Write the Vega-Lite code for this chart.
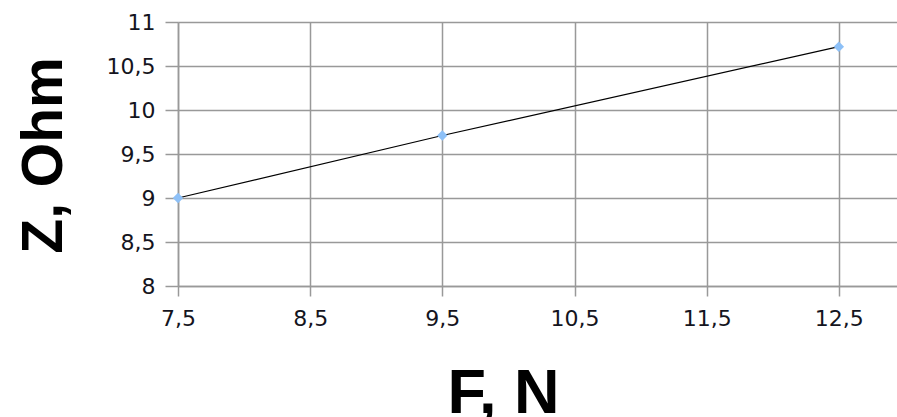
{
  "$schema": "https://vega.github.io/schema/vega-lite/v6.json",
  "autosize": "none",
  "width": 719,
  "height": 264,
  "padding": {"left": 178, "top": 22, "right": 0, "bottom": 131},
  "background": "white",
  "data": {"values": [
    {"F": 7.5, "Z": 9.0},
    {"F": 9.5, "Z": 9.71},
    {"F": 12.5, "Z": 10.72}
  ]},
  "encoding": {
    "x": {"field": "F", "type": "quantitative",
      "scale": {"domain": [7.5, 12.94], "nice": false, "zero": false},
      "axis": {"values": [7.5, 8.5, 9.5, 10.5, 11.5, 12.5],
        "labelExpr": "replace(format(datum.value, '.1~f'), '.', ',')",
        "title": "F, N", "titleX": 325, "titleY": 126, "titleBaseline": "alphabetic",
        "titleAlign": "center", "titleAnchor": null, "titleFontSize": 63,
        "tickSize": 10, "labelPadding": 12, "labelFlush": false}},
    "y": {"field": "Z", "type": "quantitative",
      "scale": {"domain": [8, 11], "nice": false, "zero": false},
      "axis": {"values": [8, 8.5, 9, 9.5, 10, 10.5, 11],
        "labelExpr": "replace(format(datum.value, '.1~f'), '.', ',')",
        "title": "Z, Ohm", "titleX": -117, "titleY": 133, "titleAngle": -90,
        "titleBaseline": "alphabetic", "titleAlign": "center", "titleAnchor": null,
        "tickSize": 13, "labelPadding": 10}}
  },
  "layer": [
    {"mark": {"type": "line", "color": "black", "strokeWidth": 1.2}},
    {"mark": {"type": "point", "shape": "diamond", "filled": true, "color": "#8dc0f7", "size": 110, "opacity": 1}}
  ],
  "config": {
    "view": {"stroke": null},
    "axis": {
      "domainColor": "#999999", "domainWidth": 1.5,
      "gridColor": "#999999", "gridWidth": 1.5, "gridOpacity": 1,
      "tickColor": "#999999", "tickWidth": 1.5,
      "labelFont": "DejaVu Sans", "labelFontSize": 22, "labelColor": "#141420",
      "titleFont": "Liberation Sans", "titleFontWeight": "bold", "titleFontSize": 57, "titleColor": "#000000"
    }
  }
}
